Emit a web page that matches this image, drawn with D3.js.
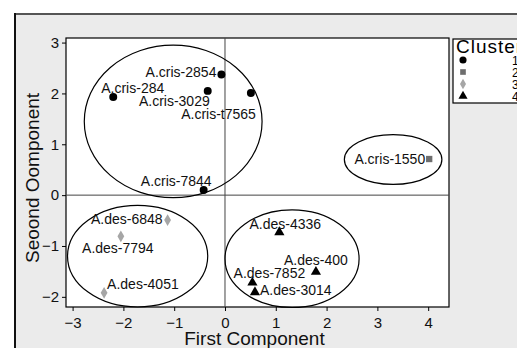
<!DOCTYPE html>
<html>
<head>
<meta charset="utf-8">
<script src="https://cdn.jsdelivr.net/npm/d3@7"></script>
<style>
  body { margin: 0; background: #fff; overflow: hidden; }
  svg { display: block; font-family: "Liberation Sans", Arial, sans-serif; }
</style>
</head>
<body>
<svg id="chart" width="517" height="348"></svg>
<script>
// sample names, scores and cluster membership
const names = ['A.cris-2854', 'A.cris-284', 'A.cris-3029', 'A.cris-t7565', 'A.cris-7844',
  'A.cris-1550', 'A.des-6848', 'A.des-7794', 'A.des-4051', 'A.des-4336',
  'A.des-400', 'A.des-7852', 'A.des-3014'];
const firstComp = [-0.07, -2.2, -0.34, 0.51, -0.42, 4.02, -1.13, -2.05, -2.38, 1.07, 1.79, 0.54, 0.59];
const secondComp = [2.37, 1.93, 2.05, 2.01, 0.1, 0.71, -0.49, -0.81, -1.92, -0.73, -1.51, -1.72, -1.91];
const clusterOf = [1, 1, 1, 1, 1, 2, 3, 3, 3, 4, 4, 4, 4];

// label offsets in px (dx, dy, anchor)
const labelDx = [-5, -12, 2, 5, 8, -4, -5, -3, 3, 6, 0, 17, 5];
const labelDy = [2, -4, 15, 26, -4, 5, 4, 17, -4, -3, -7, -5, 3];
const labelAnchor = ['end', 'start', 'end', 'end', 'end', 'end', 'end', 'middle', 'start', 'middle', 'middle', 'middle', 'start'];

// cluster ellipses in data units
const ellCx = [-1.02, 3.31, -1.72, 1.32];
const ellCy = [1.45, 0.70, -1.2, -1.25];
const ellRx = [1.75, 0.96, 1.38, 1.32];
const ellRy = [1.5, 0.49, 1.0, 0.96];

const xTicks = [-3, -2, -1, 0, 1, 2, 3, 4];
const yTicks = [-2, -1, 0, 1, 2, 3];
const clusters = [1, 2, 3, 4];

const svg = d3.select('#chart');
const plot = { left: 66, top: 38, right: 449, bottom: 307 };

const x = d3.scaleLinear().domain([-3.13, 4.41]).range([plot.left, plot.right]);
const y = d3.scaleLinear().domain([-2.2, 3.09]).range([plot.bottom, plot.top]);

const symbolFor = {
  1: d3.symbolCircle, 2: d3.symbolSquare, 3: d3.symbolDiamond, 4: d3.symbolTriangle
};
const colorFor = { 1: '#000', 2: '#6e6e6e', 3: '#a6a6a6', 4: '#000' };
const sizeFor = { 1: 50, 2: 40, 3: 40, 4: 45 };

// outer frame
svg.append('rect')
  .attr('x', 14).attr('y', 13).attr('width', 540).attr('height', 360)
  .attr('fill', '#ebebeb');
svg.append('line').attr('x1', 14).attr('x2', 517).attr('y1', 14).attr('y2', 14)
  .attr('stroke', '#555').attr('stroke-width', 2);
svg.append('line').attr('x1', 15).attr('x2', 15).attr('y1', 13).attr('y2', 348)
  .attr('stroke', '#111').attr('stroke-width', 2);

// plot area
svg.append('rect')
  .attr('x', plot.left).attr('y', plot.top)
  .attr('width', plot.right - plot.left).attr('height', plot.bottom - plot.top)
  .attr('fill', '#fff').attr('stroke', '#000').attr('stroke-width', 1.2);

// reference lines
svg.append('line')
  .attr('x1', x(0)).attr('x2', x(0)).attr('y1', plot.top).attr('y2', plot.bottom)
  .attr('stroke', '#444').attr('stroke-width', 1);
svg.append('line')
  .attr('x1', plot.left).attr('x2', plot.right).attr('y1', y(0)).attr('y2', y(0))
  .attr('stroke', '#444').attr('stroke-width', 1);

// axes
const xAxis = svg.append('g')
  .attr('transform', `translate(0,${plot.bottom})`)
  .call(d3.axisBottom(x).tickValues(xTicks).tickFormat(d3.format('d')).tickSize(4).tickSizeOuter(0));
const yAxis = svg.append('g')
  .attr('transform', `translate(${plot.left},0)`)
  .call(d3.axisLeft(y).tickValues(yTicks).tickFormat(d3.format('d')).tickSize(4).tickSizeOuter(0));
[xAxis, yAxis].forEach(a => {
  a.select('.domain').remove();
  a.selectAll('line').attr('stroke', '#000');
  a.selectAll('text').attr('fill', '#111').style('font-size', '15px')
    .style('font-family', '"Liberation Sans", Arial, sans-serif');
});
xAxis.selectAll('text').attr('dy', '0.9em');

// ellipses
svg.append('g').selectAll('ellipse')
  .data(ellCx.map((c, i) => i))
  .join('ellipse')
  .attr('cx', i => x(ellCx[i]))
  .attr('cy', i => y(ellCy[i]))
  .attr('rx', i => x(ellRx[i]) - x(0))
  .attr('ry', i => y(0) - y(ellRy[i]))
  .attr('fill', 'none').attr('stroke', '#000').attr('stroke-width', 1.2);

// points
const idx = names.map((n, i) => i);
svg.append('g').selectAll('path')
  .data(idx)
  .join('path')
  .attr('transform', i => `translate(${x(firstComp[i])},${y(secondComp[i])})`)
  .attr('d', i => d3.symbol(symbolFor[clusterOf[i]], sizeFor[clusterOf[i]])())
  .attr('fill', i => colorFor[clusterOf[i]]);

// point labels
svg.append('g').selectAll('text')
  .data(idx)
  .join('text')
  .attr('x', i => x(firstComp[i]) + labelDx[i])
  .attr('y', i => y(secondComp[i]) + labelDy[i])
  .attr('text-anchor', i => labelAnchor[i])
  .style('font-size', '14px')
  .attr('fill', '#111')
  .text(i => names[i]);

// axis titles
svg.append('text')
  .attr('x', (plot.left + plot.right) / 2 - 3).attr('y', 345)
  .attr('text-anchor', 'middle')
  .style('font-size', '19px').attr('fill', '#111')
  .text('First Component');
svg.append('text')
  .attr('transform', 'translate(39,178) rotate(-90)')
  .attr('text-anchor', 'middle')
  .style('font-size', '19px').attr('fill', '#111')
  .text('Seoond Oomponent');

// legend
const legend = svg.append('g');
legend.append('rect')
  .attr('x', 453).attr('y', 39).attr('width', 80).attr('height', 64)
  .attr('fill', '#fff').attr('stroke', '#000').attr('stroke-width', 1.2);
legend.append('text')
  .attr('x', 456).attr('y', 53)
  .style('font-size', '19px').style('letter-spacing', '1px').attr('fill', '#000')
  .text('Cluster');
const legY = d3.scalePoint().domain(clusters).range([60, 96]);
legend.selectAll('path')
  .data(clusters)
  .join('path')
  .attr('transform', c => `translate(463,${legY(c)})`)
  .attr('d', c => d3.symbol(symbolFor[c], sizeFor[c] * 0.8)())
  .attr('fill', c => colorFor[c]);
legend.selectAll('text.lab')
  .data(clusters)
  .join('text')
  .attr('class', 'lab')
  .attr('x', 512).attr('y', c => legY(c) + 5)
  .style('font-size', '12px').attr('fill', '#000')
  .text(c => c);
</script>
</body>
</html>
